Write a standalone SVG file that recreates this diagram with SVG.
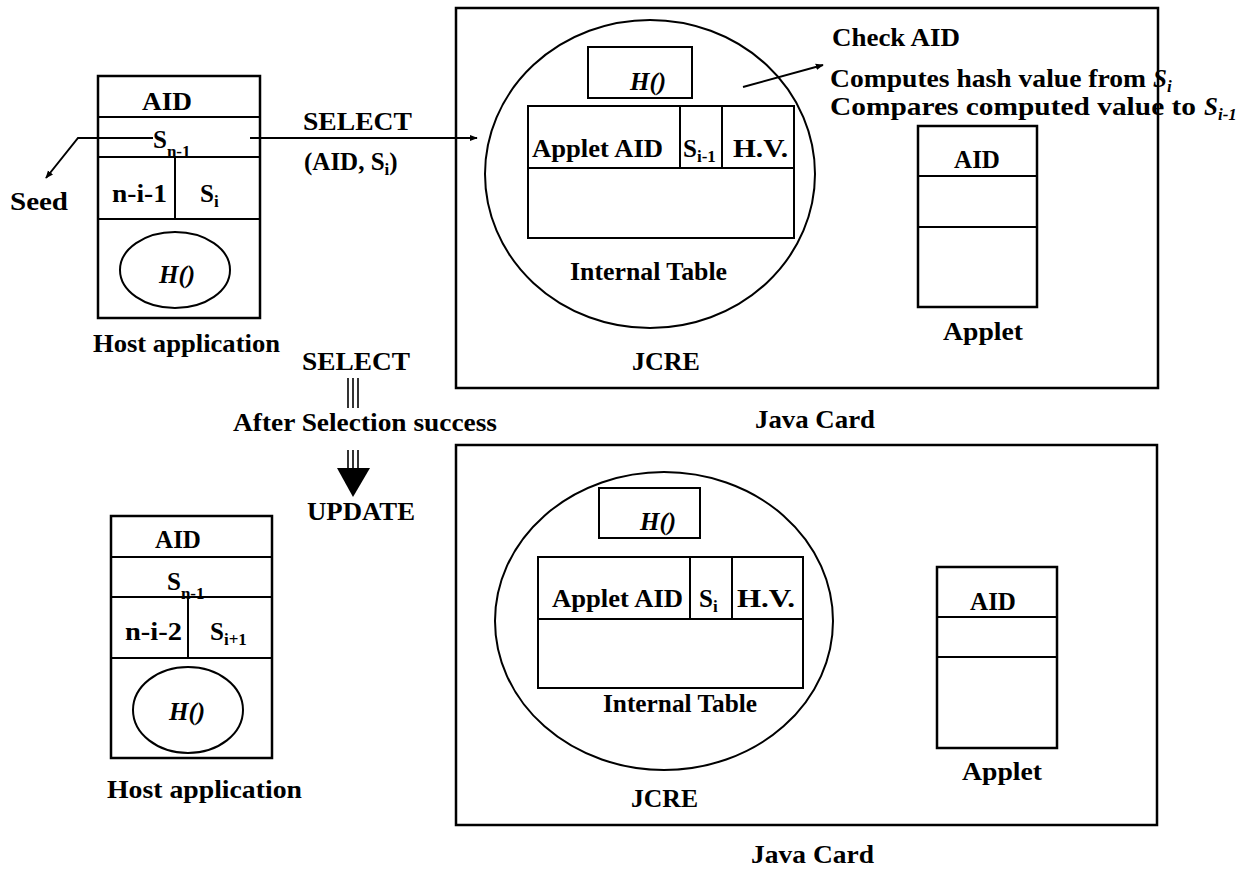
<svg xmlns="http://www.w3.org/2000/svg" width="1237" height="869" viewBox="0 0 1237 869">
<style>
  .t { font-family: "Liberation Serif", "Times New Roman", serif; font-weight: bold; font-size: 25px; fill: #000; }
  .it { font-style: italic; }
  .sub { font-size: 17px; }
  .box { fill: none; stroke: #000; stroke-width: 2.5; }
  .ln { fill: none; stroke: #000; stroke-width: 2; }
  .thin { fill: none; stroke: #000; stroke-width: 1.6; }
</style>
<defs>
  <marker id="ah" viewBox="0 0 10 10" refX="9" refY="5" markerWidth="8" markerHeight="8" orient="auto" markerUnits="userSpaceOnUse">
    <path d="M0,1 L10,5 L0,9 z" fill="#000"/>
  </marker>
</defs>
<rect width="1237" height="869" fill="#fff"/>

<!-- Top host application -->
<g id="host-top">
  <rect class="box" x="98" y="76" width="162" height="242"/>
  <line class="ln" x1="98" y1="117" x2="260" y2="117"/>
  <line class="ln" x1="98" y1="157" x2="260" y2="157"/>
  <line class="ln" x1="98" y1="219" x2="260" y2="219"/>
  <line class="ln" x1="175" y1="157" x2="175" y2="219"/>
  <ellipse class="ln" cx="175" cy="270" rx="55" ry="38"/>
  <text class="t" x="142" y="110" textLength="50" lengthAdjust="spacingAndGlyphs">AID</text>
  <text class="t" x="153" y="148">S<tspan class="sub" dy="9">n-1</tspan></text>
  <text class="t" x="112" y="202" textLength="55" lengthAdjust="spacingAndGlyphs">n-i-1</text>
  <text class="t" x="200" y="202">S<tspan class="sub" dy="5">i</tspan></text>
  <text class="t it" x="177" y="283" text-anchor="middle">H()</text>
  <text class="t" x="93" y="352" textLength="187" lengthAdjust="spacingAndGlyphs">Host application</text>
  <text class="t" x="10" y="210" textLength="58" lengthAdjust="spacingAndGlyphs">Seed</text>
</g>

<!-- Top Java Card -->
<g id="javacard-top">
  <rect class="box" x="456" y="8" width="702" height="380"/>
  <text class="t" x="755" y="428" textLength="120" lengthAdjust="spacingAndGlyphs">Java Card</text>
  <text class="t" x="632" y="370" textLength="68" lengthAdjust="spacingAndGlyphs">JCRE</text>
</g>
<g id="jcre-top">
  <ellipse class="ln" cx="650" cy="174" rx="165" ry="154"/>
  <rect class="ln" x="588" y="47" width="104" height="51"/>
  <text class="t it" x="648" y="90" text-anchor="middle">H()</text>
  <rect class="ln" x="528" y="106" width="266" height="132"/>
  <line class="ln" x1="528" y1="168" x2="794" y2="168"/>
  <line class="ln" x1="680" y1="106" x2="680" y2="168"/>
  <line class="ln" x1="722" y1="106" x2="722" y2="168"/>
  <text class="t" x="532" y="157" textLength="131" lengthAdjust="spacingAndGlyphs">Applet AID</text>
  <text class="t" x="683" y="157">S<tspan class="sub" dy="5">i-1</tspan></text>
  <text class="t" x="733" y="157" textLength="55" lengthAdjust="spacingAndGlyphs">H.V.</text>
  <text class="t" x="570" y="280" textLength="157" lengthAdjust="spacingAndGlyphs">Internal Table</text>
</g>
<g id="check-text">
  <text class="t" x="832" y="46" textLength="128" lengthAdjust="spacingAndGlyphs">Check AID</text>
  <text class="t" x="830" y="87" textLength="316" lengthAdjust="spacingAndGlyphs">Computes hash value from</text>
  <text class="t it" x="1153" y="87">S<tspan class="sub" dy="5">i</tspan></text>
  <text class="t" x="830" y="115" textLength="366" lengthAdjust="spacingAndGlyphs">Compares computed value to</text>
  <text class="t it" x="1204" y="115">S<tspan class="sub" dy="5">i-1</tspan></text>
</g>
<g id="applet-top">
  <rect class="box" x="918" y="126" width="119" height="181"/>
  <line class="ln" x1="918" y1="176" x2="1037" y2="176"/>
  <line class="ln" x1="918" y1="227" x2="1037" y2="227"/>
  <text class="t" x="977" y="168" text-anchor="middle">AID</text>
  <text class="t" x="943" y="340" textLength="80" lengthAdjust="spacingAndGlyphs">Applet</text>
</g>

<!-- Middle labels -->
<g id="select-label">
  <text class="t" x="303" y="130" textLength="109" lengthAdjust="spacingAndGlyphs">SELECT</text>
  <text class="t" x="304" y="170">(AID, S<tspan class="sub" dy="5">i</tspan><tspan dy="-5">)</tspan></text>
</g>
<g id="flow-label">
  <text class="t" x="302" y="370" textLength="108" lengthAdjust="spacingAndGlyphs">SELECT</text>
  <text class="t" x="233" y="431" textLength="264" lengthAdjust="spacingAndGlyphs">After Selection success</text>
  <text class="t" x="307" y="520" textLength="108" lengthAdjust="spacingAndGlyphs">UPDATE</text>
</g>

<!-- Bottom host application -->
<g id="host-bottom">
  <rect class="box" x="111" y="516" width="161" height="242"/>
  <line class="ln" x1="111" y1="557" x2="272" y2="557"/>
  <line class="ln" x1="111" y1="597" x2="272" y2="597"/>
  <line class="ln" x1="111" y1="658" x2="272" y2="658"/>
  <line class="ln" x1="188" y1="597" x2="188" y2="658"/>
  <ellipse class="ln" cx="188" cy="710" rx="55" ry="43"/>
  <text class="t" x="178" y="548" text-anchor="middle">AID</text>
  <text class="t" x="167" y="590">S<tspan class="sub" dy="9">n-1</tspan></text>
  <text class="t" x="125" y="640" textLength="57" lengthAdjust="spacingAndGlyphs">n-i-2</text>
  <text class="t" x="210" y="640">S<tspan class="sub" dy="5">i+1</tspan></text>
  <text class="t it" x="187" y="720" text-anchor="middle">H()</text>
  <text class="t" x="107" y="798" textLength="195" lengthAdjust="spacingAndGlyphs">Host application</text>
</g>

<!-- Bottom Java Card -->
<g id="javacard-bottom">
  <rect class="box" x="456" y="445" width="701" height="380"/>
  <text class="t" x="751" y="863" textLength="123" lengthAdjust="spacingAndGlyphs">Java Card</text>
  <text class="t" x="631" y="807" textLength="67" lengthAdjust="spacingAndGlyphs">JCRE</text>
</g>
<g id="jcre-bottom">
  <ellipse class="ln" cx="664" cy="621" rx="169" ry="149"/>
  <rect class="ln" x="599" y="488" width="101" height="50"/>
  <text class="t it" x="658" y="530" text-anchor="middle">H()</text>
  <rect class="ln" x="538" y="557" width="265" height="131"/>
  <line class="ln" x1="538" y1="619" x2="803" y2="619"/>
  <line class="ln" x1="690" y1="557" x2="690" y2="619"/>
  <line class="ln" x1="732" y1="557" x2="732" y2="619"/>
  <text class="t" x="552" y="607" textLength="131" lengthAdjust="spacingAndGlyphs">Applet AID</text>
  <text class="t" x="699" y="607">S<tspan class="sub" dy="5">i</tspan></text>
  <text class="t" x="737" y="607" textLength="58" lengthAdjust="spacingAndGlyphs">H.V.</text>
  <text class="t" x="603" y="712" textLength="154" lengthAdjust="spacingAndGlyphs">Internal Table</text>
</g>
<g id="applet-bottom">
  <rect class="box" x="937" y="567" width="120" height="181"/>
  <line class="ln" x1="937" y1="617" x2="1057" y2="617"/>
  <line class="ln" x1="937" y1="657" x2="1057" y2="657"/>
  <text class="t" x="993" y="610" text-anchor="middle">AID</text>
  <text class="t" x="962" y="780" textLength="80" lengthAdjust="spacingAndGlyphs">Applet</text>
</g>

<!-- Connectors -->
<g id="connectors">
  <line class="ln" x1="250" y1="138" x2="477" y2="138" marker-end="url(#ah)"/>
  <polyline class="ln" points="153,138 78,138 46,178" marker-end="url(#ah)"/>
  <line class="ln" x1="743" y1="87" x2="823" y2="65" marker-end="url(#ah)"/>
  <line class="thin" x1="348" y1="378" x2="348" y2="408"/>
  <line class="thin" x1="353" y1="378" x2="353" y2="408"/>
  <line class="thin" x1="358" y1="378" x2="358" y2="408"/>
  <line class="thin" x1="348" y1="450" x2="348" y2="469"/>
  <line class="thin" x1="353" y1="450" x2="353" y2="469"/>
  <line class="thin" x1="358" y1="450" x2="358" y2="469"/>
  <polygon points="337,468 370,468 353,497" fill="#000"/>
</g>
</svg>
